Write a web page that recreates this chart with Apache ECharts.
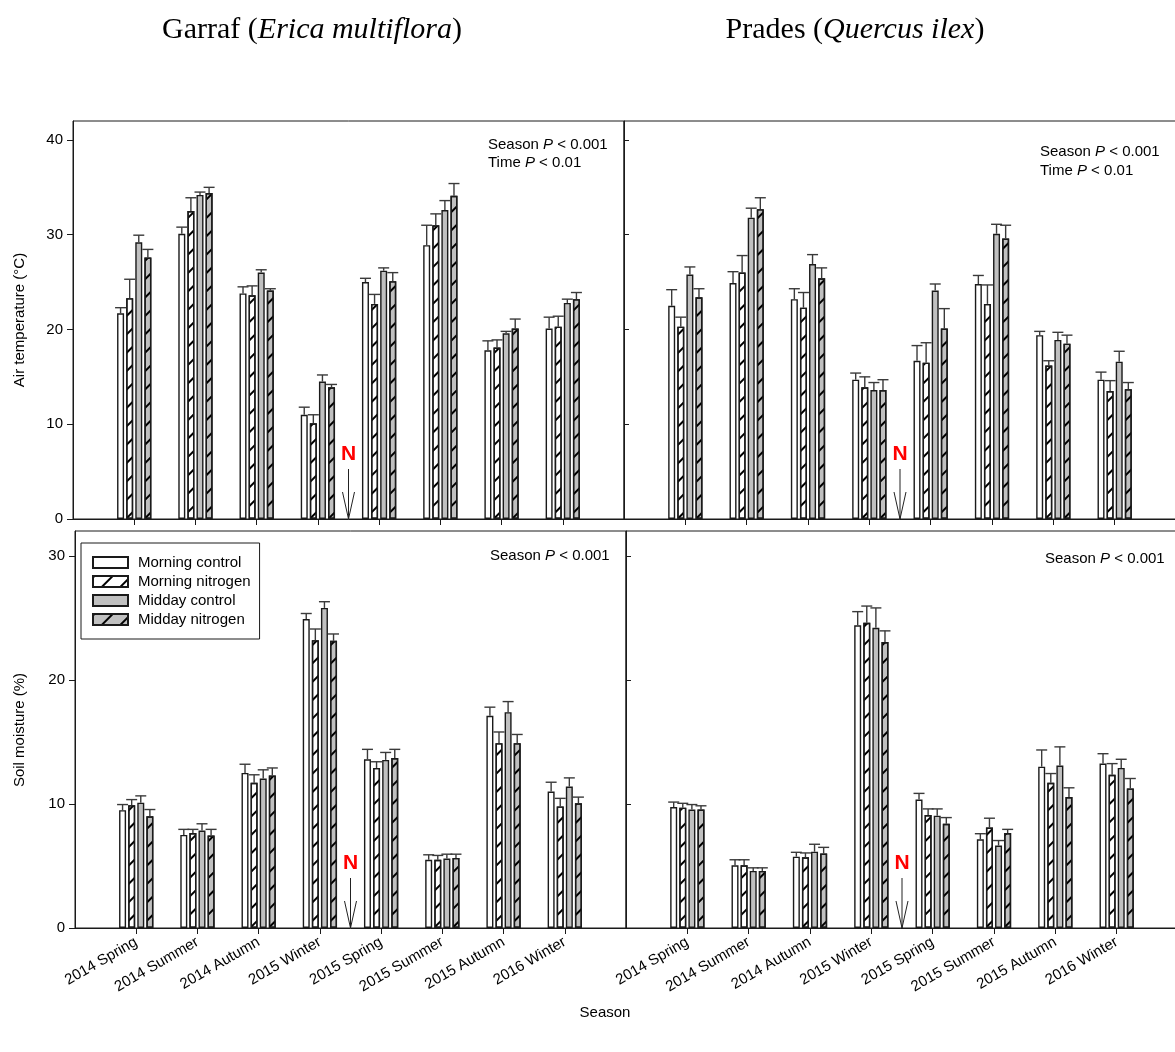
<!DOCTYPE html>
<html>
<head>
<meta charset="utf-8">
<script src="https://cdn.jsdelivr.net/npm/echarts@6/dist/echarts.min.js"></script>
<style>
  html, body { margin: 0; padding: 0; background: #fff; }
  #chart { width: 1175px; height: 1052px; }
</style>
</head>
<body>
<div id="chart"></div>
<script>
// Seasons sampled
const categories = ['2014 Spring', '2014 Summer', '2014 Autumn', '2015 Winter',
                    '2015 Spring', '2015 Summer', '2015 Autumn', '2016 Winter'];
const treatments = ['Morning control', 'Morning nitrogen', 'Midday control', 'Midday nitrogen'];
const tempTicks = [0, 10, 20, 30, 40];
const moistTicks = [0, 10, 20, 30];

// Garraf (Erica multiflora) – air temperature (°C), mean and SE
const garrafAirMorningControl    = [21.7, 30.1, 23.8, 11.0, 25.0, 28.9, 17.8, 20.1];
const garrafAirMorningControlSE  = [0.6, 0.7, 0.7, 0.8, 0.4, 2.1, 1.0, 1.2];
const garrafAirMorningNitrogen   = [23.3, 32.5, 23.6, 10.1, 22.7, 31.0, 18.1, 20.3];
const garrafAirMorningNitrogenSE = [2.0, 1.4, 1.0, 0.9, 1.0, 1.2, 0.8, 1.1];
const garrafAirMiddayControl     = [29.2, 34.2, 26.0, 14.5, 26.2, 32.6, 19.6, 22.8];
const garrafAirMiddayControlSE   = [0.75, 0.3, 0.3, 0.7, 0.3, 1.0, 0.2, 0.4];
const garrafAirMiddayNitrogen    = [27.6, 34.4, 24.1, 13.9, 25.1, 34.1, 20.1, 23.2];
const garrafAirMiddayNitrogenSE  = [0.85, 0.6, 0.2, 0.3, 0.9, 1.3, 1.0, 0.7];

// Prades (Quercus ilex) – air temperature (°C)
const pradesAirMorningControl    = [22.5, 24.9, 23.2, 14.7, 16.7, 24.8, 19.4, 14.7];
const pradesAirMorningControlSE  = [1.7, 1.2, 1.1, 0.7, 1.6, 0.9, 0.4, 0.8];
const pradesAirMorningNitrogen   = [20.3, 26.0, 22.3, 13.9, 16.5, 22.7, 16.2, 13.5];
const pradesAirMorningNitrogenSE = [1.0, 1.8, 1.6, 1.1, 2.1, 2.0, 0.5, 1.1];
const pradesAirMiddayControl     = [25.8, 31.8, 26.9, 13.6, 24.1, 30.1, 18.9, 16.6];
const pradesAirMiddayControlSE   = [0.8, 1.0, 1.0, 0.8, 0.7, 1.0, 0.8, 1.1];
const pradesAirMiddayNitrogen    = [23.4, 32.7, 25.4, 13.6, 20.1, 29.6, 18.5, 13.7];
const pradesAirMiddayNitrogenSE  = [0.9, 1.2, 1.1, 1.1, 2.1, 1.4, 0.9, 0.7];

// Garraf – soil moisture (%)
const garrafSoilMorningControl    = [9.5, 7.5, 12.5, 24.9, 13.6, 5.5, 17.1, 11.0];
const garrafSoilMorningControlSE  = [0.45, 0.45, 0.7, 0.45, 0.8, 0.4, 0.7, 0.75];
const garrafSoilMorningNitrogen   = [9.9, 7.65, 11.7, 23.2, 12.9, 5.5, 14.9, 9.8];
const garrafSoilMorningNitrogenSE = [0.45, 0.3, 0.65, 0.9, 0.5, 0.35, 0.9, 0.65];
const garrafSoilMiddayControl     = [10.1, 7.85, 12.05, 25.8, 13.55, 5.6, 17.4, 11.4];
const garrafSoilMiddayControlSE   = [0.55, 0.55, 0.7, 0.5, 0.6, 0.35, 0.85, 0.7];
const garrafSoilMiddayNitrogen    = [9.0, 7.45, 12.3, 23.15, 13.7, 5.65, 14.9, 10.05];
const garrafSoilMiddayNitrogenSE  = [0.55, 0.5, 0.6, 0.55, 0.7, 0.3, 0.7, 0.5];

// Prades – soil moisture (%)
const pradesSoilMorningControl    = [9.75, 5.05, 5.75, 24.4, 10.35, 7.15, 13.0, 13.25];
const pradesSoilMorningControlSE  = [0.4, 0.45, 0.35, 1.1, 0.5, 0.45, 1.35, 0.8];
const pradesSoilMorningNitrogen   = [9.7, 5.05, 5.7, 24.6, 9.1, 8.1, 11.7, 12.35];
const pradesSoilMorningNitrogenSE = [0.35, 0.45, 0.35, 1.35, 0.5, 0.75, 0.75, 0.9];
const pradesSoilMiddayControl     = [9.55, 4.6, 6.15, 24.2, 9.05, 6.65, 13.1, 12.9];
const pradesSoilMiddayControlSE   = [0.4, 0.25, 0.6, 1.6, 0.55, 0.4, 1.5, 0.7];
const pradesSoilMiddayNitrogen    = [9.55, 4.6, 6.0, 23.05, 8.4, 7.65, 10.55, 11.25];
const pradesSoilMiddayNitrogenSE  = [0.3, 0.25, 0.5, 0.9, 0.5, 0.3, 0.75, 0.8];

// Nitrogen was applied between these two seasons
const nitrogenBefore = '2015 Winter';
const nitrogenAfter = '2015 Spring';

const panels = [
  { means: [garrafAirMorningControl, garrafAirMorningNitrogen, garrafAirMiddayControl, garrafAirMiddayNitrogen],
    errs:  [garrafAirMorningControlSE, garrafAirMorningNitrogenSE, garrafAirMiddayControlSE, garrafAirMiddayNitrogenSE] },
  { means: [pradesAirMorningControl, pradesAirMorningNitrogen, pradesAirMiddayControl, pradesAirMiddayNitrogen],
    errs:  [pradesAirMorningControlSE, pradesAirMorningNitrogenSE, pradesAirMiddayControlSE, pradesAirMiddayNitrogenSE] },
  { means: [garrafSoilMorningControl, garrafSoilMorningNitrogen, garrafSoilMiddayControl, garrafSoilMiddayNitrogen],
    errs:  [garrafSoilMorningControlSE, garrafSoilMorningNitrogenSE, garrafSoilMiddayControlSE, garrafSoilMiddayNitrogenSE] },
  { means: [pradesSoilMorningControl, pradesSoilMorningNitrogen, pradesSoilMiddayControl, pradesSoilMiddayNitrogen],
    errs:  [pradesSoilMorningControlSE, pradesSoilMorningNitrogenSE, pradesSoilMiddayControlSE, pradesSoilMiddayNitrogenSE] }
];

// Empty slots at both ends so the seasons sit at positions 1..8 of a 0..9 axis
const axisCats = [''].concat(categories, ['']);
const pad = arr => ['-'].concat(arr, ['-']);

const FONT = 'Arial, "Liberation Sans", sans-serif';
const SERIF = '"Times New Roman", "Liberation Serif", serif';
const INK = '#1a1a1a';
const GRAY = '#c0c0c0';
const BAR_W = 7;
const BAR_GAP = 0.3;
const PITCH = BAR_W * (1 + BAR_GAP);

// forward-slash hatching for the nitrogen treatments
const hatch = {
  symbol: 'rect', symbolSize: 1, color: '#000',
  dashArrayX: [1, 0], dashArrayY: [1.3, 11], rotation: -Math.PI / 4
};
const fills = [
  { color: '#fff' },
  { color: '#fff', decal: hatch },
  { color: GRAY },
  { color: GRAY, decal: hatch }
];

// the right-hand panels' outer frame sits just past the page edge
const grids = [
  { left: 73,  top: 121, width: 551, height: 398 },
  { left: 624, top: 121, width: 552, height: 398 },
  { left: 75,  top: 531, width: 551, height: 397 },
  { left: 626, top: 531, width: 552, height: 397 }
].map(g => Object.assign({ show: true, borderColor: INK, borderWidth: 1,
                           backgroundColor: 'transparent', containLabel: false,
                           outerBoundsMode: 'none' }, g));

const tickOnly = idx => idx > 0 && idx < axisCats.length - 1;

const xAxes = grids.map((g, i) => ({
  type: 'category', gridIndex: i, data: axisCats, boundaryGap: false,
  axisLine: { show: true, lineStyle: { color: INK, width: 1 } },
  axisTick: { show: true, length: 6, interval: tickOnly, lineStyle: { color: INK } },
  axisLabel: {
    show: i >= 2, interval: 0, rotate: 30, margin: 13,
    fontFamily: FONT, fontSize: 15, color: '#000'
  },
  splitLine: { show: false }
}));

const yAxes = grids.map((g, i) => {
  const top = i < 2;
  const ticks = top ? tempTicks : moistTicks;
  return {
    type: 'value', gridIndex: i, min: 0, max: top ? 42 : 32, interval: 10,
    axisLine: { show: true, lineStyle: { color: INK, width: 1 } },
    axisTick: { show: true, length: i % 2 === 0 ? 6 : 5, inside: i % 2 === 1,
                customValues: ticks, lineStyle: { color: INK } },
    axisLabel: { show: i % 2 === 0, customValues: ticks, margin: 10,
                 fontFamily: FONT, fontSize: 15, color: '#000' },
    splitLine: { show: false }
  };
});

const series = [];
panels.forEach((p, gi) => {
  p.means.forEach((vals, k) => {
    series.push({
      type: 'bar', name: treatments[k], xAxisIndex: gi, yAxisIndex: gi,
      data: pad(vals), barWidth: BAR_W, barGap: (BAR_GAP * 100) + '%',
      itemStyle: Object.assign({ borderColor: INK, borderWidth: 1.4 }, fills[k]),
      emphasis: { disabled: true }, z: 2
    });
  });
  // upward standard-error whiskers
  const errData = [];
  p.means.forEach((vals, k) => {
    vals.forEach((m, ci) => errData.push([ci + 1, m, p.errs[k][ci], k]));
  });
  series.push({
    type: 'custom', xAxisIndex: gi, yAxisIndex: gi, data: errData, z: 3,
    encode: { x: 0, y: 1 }, silent: true,
    renderItem: (params, api) => {
      const ci = api.value(0), m = api.value(1), e = api.value(2), k = api.value(3);
      const base = api.coord([ci, m]);
      const top = api.coord([ci, m + e]);
      const x = base[0] + (k - 1.5) * PITCH;
      const st = { stroke: '#3a3a3a', lineWidth: 1.4 };
      return { type: 'group', children: [
        { type: 'line', shape: { x1: x, y1: base[1], x2: x, y2: top[1] }, style: st },
        { type: 'line', shape: { x1: x - 5.5, y1: top[1], x2: x + 5.5, y2: top[1] }, style: st }
      ]};
    }
  });
  // nitrogen application marker
  const i0 = axisCats.indexOf(nitrogenBefore), i1 = axisCats.indexOf(nitrogenAfter);
  series.push({
    type: 'custom', xAxisIndex: gi, yAxisIndex: gi, data: [[i0, 0, i1]], z: 4,
    encode: { x: 0, y: 1 }, silent: true,
    renderItem: (params, api) => {
      const a = api.coord([api.value(0), 0]);
      const b = api.coord([api.value(2), 0]);
      const x = (a[0] + b[0]) / 2, y = a[1];
      const st = { stroke: '#222', lineWidth: 1, fill: 'none' };
      return { type: 'group', children: [
        { type: 'text', style: { text: 'N', x: x, y: y - 65, align: 'center', verticalAlign: 'middle',
            font: 'bold 21px ' + FONT, fill: '#ff0000' } },
        { type: 'line', shape: { x1: x, y1: y - 50, x2: x, y2: y }, style: st },
        { type: 'polyline', shape: { points: [[x - 6, y - 27], [x, y], [x + 6, y - 27]] }, style: st }
      ]};
    }
  });
});

function pText(x, y, label, value) {
  return {
    type: 'text', left: x, top: y, z: 10,
    style: {
      text: '{n|' + label + ' }{i|P}{n| < ' + value + '}',
      rich: {
        n: { fontFamily: FONT, fontSize: 15, fill: '#000' },
        i: { fontFamily: FONT, fontSize: 15, fontStyle: 'italic', fill: '#000' }
      }
    }
  };
}

const titleRich = {
  n: { fontFamily: SERIF, fontSize: 30, fill: '#000' },
  i: { fontFamily: SERIF, fontSize: 30, fontStyle: 'italic', fill: '#000' }
};

const graphics = [
  { type: 'text', x: 312, y: 30, z: 10, style: {
      text: '{n|Garraf (}{i|Erica multiflora}{n|)}', align: 'center', verticalAlign: 'middle',
      rich: titleRich } },
  { type: 'text', x: 855, y: 30, z: 10, style: {
      text: '{n|Prades (}{i|Quercus ilex}{n|)}', align: 'center', verticalAlign: 'middle',
      rich: titleRich } },
  { type: 'text', x: 20, y: 320, rotation: Math.PI / 2, z: 10, style: {
      text: 'Air temperature (°C)', align: 'center', verticalAlign: 'middle',
      font: '15px ' + FONT, fill: '#000' } },
  { type: 'text', x: 20, y: 730, rotation: Math.PI / 2, z: 10, style: {
      text: 'Soil moisture (%)', align: 'center', verticalAlign: 'middle',
      font: '15px ' + FONT, fill: '#000' } },
  { type: 'text', x: 605, y: 1013, z: 10, style: {
      text: 'Season', align: 'center', verticalAlign: 'middle',
      font: '15px ' + FONT, fill: '#000' } },
  pText(488, 137, 'Season', '0.001'),
  pText(488, 155, 'Time', '0.01'),
  pText(1040, 144, 'Season', '0.001'),
  pText(1040, 163, 'Time', '0.01'),
  pText(490, 548, 'Season', '0.001'),
  pText(1045, 551, 'Season', '0.001')
];

const chart = echarts.init(document.getElementById('chart'), null, { renderer: 'canvas' });
chart.setOption({
  animation: false,
  backgroundColor: '#fff',
  grid: grids,
  xAxis: xAxes,
  yAxis: yAxes,
  legend: {
    data: treatments, orient: 'vertical', left: 81, top: 543,
    icon: 'rect', itemWidth: 35, itemHeight: 11, itemGap: 4,
    padding: [12, 9, 12, 11],
    backgroundColor: '#fff', borderColor: INK, borderWidth: 1,
    selectedMode: false, z: 10,
    textStyle: { fontFamily: FONT, fontSize: 15, color: '#000', padding: [0, 0, 0, 5] }
  },
  series: series,
  graphic: graphics
});
</script>
</body>
</html>
